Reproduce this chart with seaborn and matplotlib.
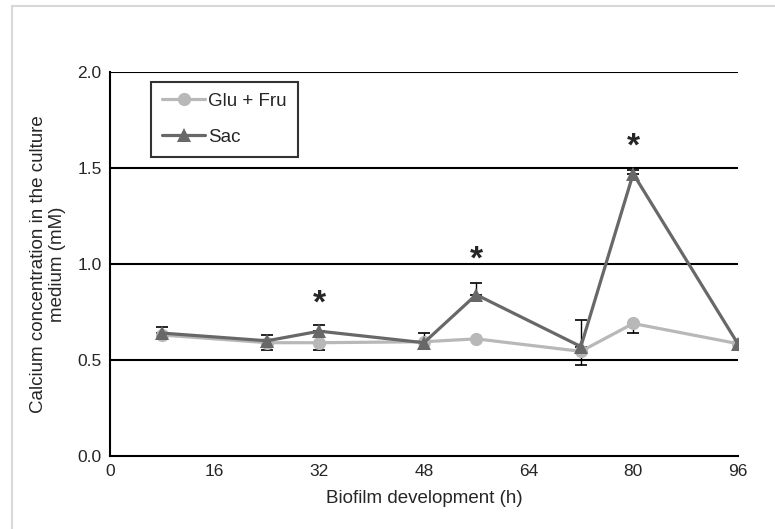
import pandas as pd
import matplotlib.pyplot as plt
import matplotlib.patches as mpatches
import seaborn as sns
import numpy as np

hours = [8, 24, 32, 48, 56, 72, 80, 96]
glu_fru = [0.63, 0.59, 0.59, 0.595, 0.61, 0.545, 0.69, 0.585]
glu_err = [0.0, 0.04, 0.04, 0.0, 0.0, 0.07, 0.05, 0.0]
sac = [0.64, 0.60, 0.65, 0.59, 0.84, 0.57, 1.47, 0.585]
sac_err = [0.03, 0.03, 0.03, 0.05, 0.06, 0.14, 0.02, 0.0]
star_hours = [32, 56, 80]
star_y = [0.79, 1.02, 1.61]

df = pd.DataFrame({
    "hour": hours * 2,
    "value": glu_fru + sac,
    "group": ["Glu + Fru"] * len(hours) + ["Sac"] * len(hours),
})

sns.set_style("white")
plt.rcParams['font.family'] = ['Liberation Sans', 'DejaVu Sans']

fig = plt.figure(figsize=(7.75, 5.29), dpi=100)
ax = fig.add_axes([0.142, 0.138, 0.810, 0.726])

light = "#b8b8b8"
dark = "#686868"

# one-sided error bars, as in the original
ax.errorbar(hours, glu_fru, yerr=[glu_err, np.zeros(len(hours))], fmt="none",
            ecolor="black", elinewidth=1, capsize=4.5, capthick=1.2, zorder=2)
ax.errorbar(hours, sac, yerr=[np.zeros(len(hours)), sac_err], fmt="none",
            ecolor="black", elinewidth=1, capsize=4.5, capthick=1.2, zorder=2)

sns.lineplot(data=df, x="hour", y="value", hue="group", style="group",
             palette={"Glu + Fru": light, "Sac": dark},
             markers={"Glu + Fru": "o", "Sac": "^"}, dashes=False,
             linewidth=2.3, markersize=9.5, markeredgewidth=0, ax=ax, zorder=3)

for h, y in zip(star_hours, star_y):
    ax.text(h, y, "*", ha="center", va="center", fontsize=24, fontweight="bold")

ax.set_xlim(0, 96)
ax.set_ylim(0, 2.0)
ax.set_xticks([0, 16, 32, 48, 64, 80, 96])
ax.set_yticks([0, 0.5, 1.0, 1.5, 2.0])
ax.set_yticklabels(["0.0", "0.5", "1.0", "1.5", "2.0"])
ax.tick_params(labelsize=12.5, length=0, pad=6)
for y in [0.5, 1.0, 1.5, 2.0]:
    ax.axhline(y, color="black", linewidth=1.5, zorder=1)

for s in ["top", "right"]:
    ax.spines[s].set_visible(False)
for s in ["left", "bottom"]:
    ax.spines[s].set_color("black")
    ax.spines[s].set_linewidth(1.5)

ax.set_xlabel("Biofilm development (h)", fontsize=13.5, labelpad=8)
ax.set_ylabel("Calcium concentration in the culture\nmedium (mM)", fontsize=13.5,
              labelpad=8)

leg = ax.legend(loc="upper left", bbox_to_anchor=(0.065, 0.975), fontsize=13.5,
                frameon=True, fancybox=False, edgecolor="black",
                handlelength=2.3, handletextpad=0.15, labelspacing=1.0,
                borderpad=0.6, borderaxespad=0)
leg.get_frame().set_linewidth(1.5)

fig.patches.append(mpatches.Rectangle((0.0155, -0.1), 1.2, 1.1 - 0.011,
                                      transform=fig.transFigure, fill=False,
                                      edgecolor="#d8d8d8", linewidth=1.5))

fig.savefig("out.png", dpi=100)
